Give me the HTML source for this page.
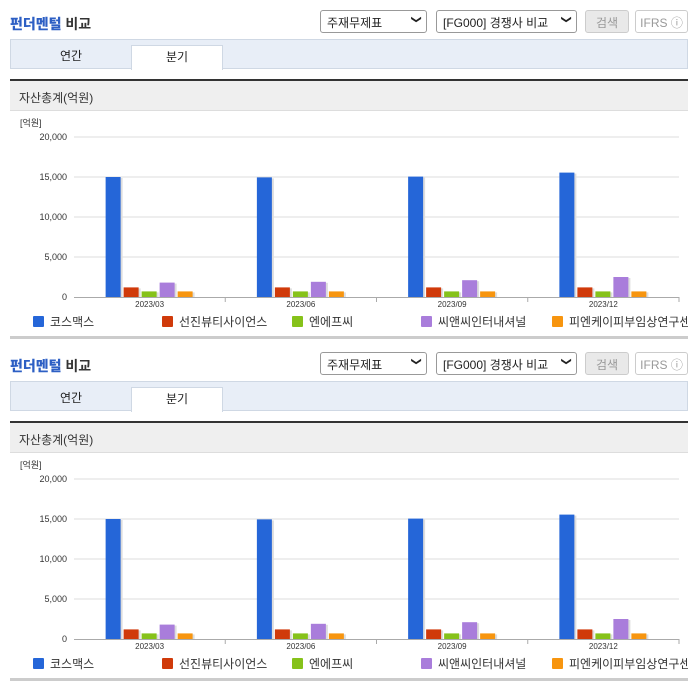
<!DOCTYPE html>
<html><head><meta charset="utf-8">
<style>
*{margin:0;padding:0;box-sizing:border-box}
body{width:696px;height:684px;background:#fff;font-family:"Liberation Sans","Noto Sans CJK KR",sans-serif;position:relative;overflow:hidden}
.panel{position:absolute;left:0;width:696px;height:342px}
.title{position:absolute;left:10px;top:14px;font-size:14px;font-weight:bold;color:#333}
.title b{color:#2d5fc4}
.sel{position:absolute;top:10px;height:23px;border:1px solid #999;border-radius:3px;font-size:12px;color:#222;padding:3px 0 0 6px;background:#fff}
.sel span{position:absolute;right:6px;top:3px;font-size:10px;transform:rotate(90deg)}
.btn{position:absolute;top:10px;height:23px;border:1px solid #ccc;border-radius:3px;font-size:12px;text-align:center;padding-top:3px}
.tabs{position:absolute;left:10px;top:39px;width:678px;height:30px;background:#e8eef7;border:1px solid #cfd8e4}
.tab{position:absolute;top:5px;height:25px;font-size:12px;text-align:center;padding-top:2px;color:#222}
.tab.on{background:#fff;border:1px solid #cfd8e4;border-bottom:none}
.dark{position:absolute;left:10px;top:79px;width:678px;height:2px;background:#333}
.hdr{position:absolute;left:10px;top:81px;width:678px;height:30px;background:#efefef;border-bottom:1px solid #ddd;font-size:12px;padding:8px 0 0 9px;color:#333}
.bottom{position:absolute;left:10px;top:336px;width:678px;height:3px;background:#ccc}
svg{position:absolute;left:0;top:110px}
</style></head><body>
<script>
const categories=["2023/03","2023/06","2023/09","2023/12"];
const seriesNames=["코스맥스","선진뷰티사이언스","엔에프씨","씨앤씨인터내셔널","피엔케이피부임상연구센타"];
const seriesColors=["#2566d8","#d03a0a","#86c21a","#a97ddb","#f7950f"];
const cosmax=[15000,14950,15050,15550];
const sunjin=[1200,1200,1200,1200];
const nfc=[700,700,700,700];
const cnc=[1800,1900,2100,2500];
const pnk=[700,700,700,700];
const yTicks=[0,5000,10000,15000,20000];
const yTickLabels=["0","5,000","10,000","15,000","20,000"];
const legendX=[33,162,292,421,552];
const NS="http://www.w3.org/2000/svg";
const x0=74,x1=679,yBase=187,yTop=27,yMax=20000;
function yS(v){return yBase-(v/yMax)*(yBase-yTop);}
function xG(i){return x0+(x1-x0)/categories.length*(i+0.5);}
function mk(tag,attrs,parent){const e=document.createElementNS(NS,tag);for(const k in attrs)e.setAttribute(k,attrs[k]);parent.appendChild(e);return e;}
function buildPanel(top){
  const p=document.createElement('div');p.className='panel';p.style.top=top+'px';
  
  
  p.innerHTML=`<div class="title"><b>펀더멘털</b> 비교</div>
<div class="sel" style="left:320px;width:107px">주재무제표<span>&#10095;</span></div>
<div class="sel" style="left:436px;width:141px">[FG000] 경쟁사 비교<span>&#10095;</span></div>
<div class="btn" style="left:585px;width:44px;background:#e9e9e9;color:#999">검색</div>
<div class="btn" style="left:635px;width:53px;color:#999;background:#fff">IFRS ⓘ</div>
<div class="tabs">
<div class="tab" style="left:0;width:120px">연간</div>
<div class="tab on" style="left:120px;width:92px">분기</div></div>
<div class="dark"></div>
<div class="hdr">자산총계(억원)</div>
<div class="bottom"></div>`;
  document.body.appendChild(p);
  const svg=mk('svg',{width:688,height:226},p);
  
  
  const u=mk('text',{x:20,y:16,'font-size':9,fill:'#333'},svg);u.textContent='[억원]';
  
  
  yTicks.forEach((v,i)=>{
    if(v>0)mk('line',{x1:x0,x2:x1,y1:yS(v),y2:yS(v),stroke:'#ddd','stroke-width':1},svg);
    const t=mk('text',{x:67,y:yS(v)+3,'font-size':9,fill:'#333','text-anchor':'end'},svg);
    t.textContent=yTickLabels[i];
    
    
  });
  mk('line',{x1:x0,x2:x1,y1:yBase+0.5,y2:yBase+0.5,stroke:'#aaa'},svg);
  const series=[cosmax,sunjin,nfc,cnc,pnk];
  categories.forEach((c,i)=>{
    const cx=xG(i);
    mk('line',{x1:x0+(x1-x0)/4*(i+1),x2:x0+(x1-x0)/4*(i+1),y1:yBase,y2:yBase+5,stroke:'#aaa'},svg);
    series.forEach((s,j)=>{
      const bx=cx-44+j*18,y=yS(s[i]);
      mk('rect',{x:bx+2,y:y+1,width:15,height:yBase-y-1,fill:'#ddd'},svg);
      const r=mk('rect',{x:bx,y:y,width:15,height:yBase-y,fill:seriesColors[j]},svg);
      
      
    });
    const t=mk('text',{x:cx,y:yBase+10,'font-size':8,fill:'#333','text-anchor':'middle'},svg);
    t.textContent=c;
    
    
  });
  seriesNames.forEach((n,j)=>{
    const g=mk('g',{},svg);
    
    
    mk('rect',{x:legendX[j],y:206,width:11,height:11,fill:seriesColors[j],rx:1},g);
    const t=mk('text',{x:legendX[j]+17,y:216,'font-size':12,fill:'#333'},g);t.textContent=n;
  });
}
buildPanel(0);buildPanel(342);
</script>
</body></html>
